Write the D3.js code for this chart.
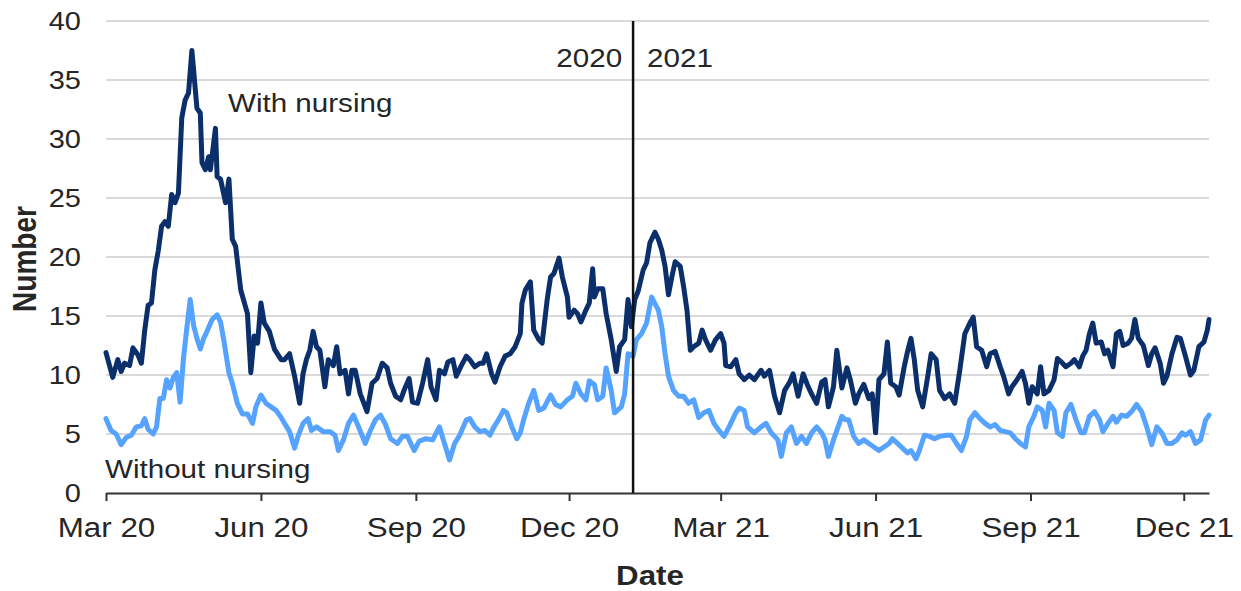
<!DOCTYPE html>
<meta charset="utf-8">
<style>
body { margin: 0; background: #fff; }
svg text { font-family: "Liberation Sans", Arial, sans-serif; fill: #262626; }
.grid line { stroke: #d9d9d9; stroke-width: 2px; }
.line { fill: none; stroke-width: 5px; stroke-linejoin: round; stroke-linecap: round; }
.with { stroke: #0b2f6b; }
.without { stroke: #55a2ff; }
.year { stroke: #111; stroke-width: 2.5px; }
</style>
<svg width="1241" height="591"></svg>
<script src="https://d3js.org/d3.v7.min.js"></script>
<script>

// days counted from 1 Mar 2020
const withDays = [0,4,7,9,11,14,16,19,21,23,25,27,29,31,33,35,37,39,41,43,45,47,49,51,54,56,57,59,61,62,65,66,68,71,73,75,77,80,84,86,88,90,92,94,97,100,104,
  106,109,112,115,117,119,121,123,125,127,130,132,135,137,139,142,144,146,148,151,155,158,161,164,167,169,172,175,177,180,182,185,188,191,193,196,198,201,203,206,208,211,214,
  216,219,222,224,226,229,231,234,237,240,243,246,247,249,252,254,257,259,262,264,266,269,271,274,275,278,280,282,285,287,289,290,292,295,297,300,303,305,308,310,312,314,316,319,321,323,326,328,
  330,332,334,336,338,341,343,345,347,349,352,354,356,359,362,365,367,368,371,374,376,379,382,385,389,391,394,397,400,403,406,408,411,414,417,419,422,425,427,429,432,434,437,
  440,442,445,447,450,453,455,457,459,462,464,466,469,471,474,476,478,480,482,485,488,490,493,495,498,501,504,507,510,513,515,517,520,523,525,528,531,533,536,538,541,544,
  546,548,550,553,555,557,560,563,565,568,570,573,575,578,580,582,584,586,588,591,593,595,598,600,602,604,607,609,611,613,616,619,621,623,626,628,630,633,636,638,641,644,646,649,652,654,655];
const withNursing = [11.9,9.8,11.3,10.3,11.0,10.8,12.3,11.7,11.0,13.8,15.9,16.1,18.9,20.5,22.6,23.0,22.6,25.3,24.6,25.4,31.8,33.3,33.9,37.5,32.6,32.2,28.0,27.4,28.5,27.4,30.9,26.8,26.6,24.6,26.6,21.5,20.9,17.2,15.2,10.2,13.3,12.7,16.1,14.4,13.7,12.2,11.3,
  11.3,11.8,9.9,7.6,10.1,11.3,12.1,13.7,12.4,12.1,9.0,11.3,10.8,12.4,10.1,10.4,8.4,10.4,10.4,8.4,6.9,9.3,9.7,11.0,10.6,9.3,8.2,7.9,8.7,9.7,7.7,7.6,9.3,11.3,9.0,7.9,10.4,10.1,11.1,11.3,9.9,10.8,11.6,
  11.3,10.7,11.0,11.0,11.8,10.1,9.4,10.7,11.6,11.8,12.4,13.5,16.1,17.2,17.9,13.8,13.0,12.7,16.4,18.3,18.6,19.9,18.3,16.6,14.9,15.5,15.2,14.5,15.5,16.1,19.0,16.6,17.3,17.3,15.2,13.0,10.3,12.4,13.0,16.4,14.1,16.4,17.1,18.9,19.5,21.2,22.1,21.5,
  20.6,19.2,16.8,18.3,19.6,19.2,17.5,15.5,12.1,12.4,12.7,13.8,13.0,12.1,13.0,13.5,12.7,10.8,10.7,11.3,10.1,9.6,10.0,9.6,10.4,9.9,10.4,8.2,6.8,8.7,9.4,10.1,8.2,10.1,9.0,8.4,7.6,9.4,9.6,7.3,9.0,12.1,8.9,
  10.6,9.6,7.6,8.4,9.2,8.0,8.4,5.1,9.6,10.1,12.8,9.3,9.0,8.3,10.7,12.0,13.1,11.3,8.7,7.3,9.9,11.8,11.3,8.7,8.0,8.4,7.6,10.4,13.5,14.4,14.9,12.4,12.1,10.7,11.8,12.0,10.7,9.9,8.4,9.0,9.6,10.3,
  9.3,7.6,9.0,8.4,10.7,8.4,8.7,9.6,11.4,11.0,10.7,11.0,11.3,10.7,11.6,12.1,13.5,14.4,12.7,12.8,11.8,12.1,10.7,13.5,13.7,12.5,12.7,13.1,14.7,13.1,12.5,10.8,11.8,12.3,11.0,9.3,9.9,11.8,13.2,13.1,11.6,10.0,10.4,12.4,12.8,13.8,14.7];

const withoutDays = [0,3,6,9,12,15,18,21,23,25,28,30,32,34,36,38,40,42,44,46,48,50,52,54,56,58,60,63,66,68,70,73,75,78,81,84,87,89,92,95,98,101,104,
  106,109,112,114,117,120,122,125,129,133,136,138,141,144,147,150,154,157,160,163,166,169,173,176,179,183,186,190,194,198,201,204,207,210,214,
  216,219,222,225,228,230,233,236,238,241,244,246,248,251,254,257,260,264,267,270,274,277,279,282,285,287,290,292,295,297,300,302,306,308,310,313,315,318,321,324,
  328,330,332,334,337,340,343,346,349,352,355,358,361,364,367,370,374,376,379,381,385,389,392,395,399,401,404,407,410,413,416,419,422,425,427,429,432,434,437,439,
  441,444,447,450,453,456,459,462,465,467,470,473,476,478,481,483,486,489,492,495,499,502,505,508,511,513,516,519,522,525,528,531,534,537,540,543,
  546,548,551,553,556,558,560,563,565,568,570,573,576,579,581,584,587,590,592,595,598,600,603,606,609,612,615,618,621,624,627,630,633,636,639,641,644,647,650,653,655];
const withoutNursing = [6.3,5.3,5.0,4.1,4.7,4.9,5.6,5.7,6.3,5.4,5.0,5.6,8.0,8.0,9.6,8.9,9.8,10.2,7.7,11.4,14.0,16.4,14.2,13.1,12.2,13.1,13.7,14.7,15.1,14.5,12.9,10.2,9.3,7.6,6.7,6.7,5.9,7.3,8.3,7.6,7.3,7.0,6.4,
  5.9,5.2,3.8,4.8,5.9,6.3,5.3,5.6,5.2,5.2,4.9,3.6,4.5,5.9,6.6,5.6,4.2,5.3,6.2,6.6,5.8,4.6,4.2,4.8,4.8,3.6,4.4,4.6,4.5,5.6,4.2,2.8,4.2,4.9,6.2,
  6.3,5.6,5.2,5.3,4.9,5.5,6.2,7.0,6.8,5.6,4.6,5.1,6.2,7.6,8.7,7.0,7.2,8.3,7.5,7.3,7.9,8.2,9.3,8.4,7.9,9.5,9.2,7.9,8.2,10.6,8.7,6.8,7.3,8.4,11.8,11.6,13.0,13.5,14.4,16.6,
  15.5,14.1,11.8,9.9,8.7,8.2,8.2,7.6,7.9,6.4,6.8,7.0,5.9,5.3,4.8,5.6,6.8,7.2,7.0,5.6,5.1,5.6,5.9,5.1,4.5,3.1,5.1,5.6,4.2,4.8,4.2,5.1,5.6,5.1,4.5,3.1,4.5,5.3,6.5,6.2,
  6.2,4.8,4.2,4.5,4.2,3.9,3.6,3.9,4.2,4.6,4.2,3.8,3.4,3.6,2.9,3.6,4.9,4.8,4.6,4.8,4.9,4.9,4.2,3.6,4.8,6.2,6.8,6.3,5.9,5.6,5.8,5.3,5.2,5.1,4.6,4.2,
  3.9,5.6,6.5,7.3,7.0,5.6,7.6,7.0,5.1,4.8,6.8,7.5,6.2,5.1,5.1,6.5,6.9,6.2,5.2,5.9,6.5,6.0,6.6,6.5,6.9,7.5,6.9,5.6,4.1,5.6,5.1,4.2,4.2,4.5,5.1,4.9,5.2,4.2,4.5,6.2,6.6];

const yTicks = [0, 5, 10, 15, 20, 25, 30, 35, 40];
const xTicks = ["2020-03-01","2020-06-01","2020-09-01","2020-12-01","2021-03-01","2021-06-01","2021-09-01","2021-12-01"];
const lastDay = 655;
const yearBreak = "2021-01-08";

const SX = 1.16; // the picture is a little wider than tall, text too

var svg = d3.select("svg");
var parse = d3.timeParse("%Y-%m-%d");
var start = parse("2020-03-01");

var x = d3.scaleTime()
    .domain([start, d3.timeDay.offset(start, lastDay)])
    .range([106, 1209]);
var y = d3.scaleLinear()
    .domain([0, 40])
    .range([493, 21]);

// grid
svg.append("g").attr("class", "grid")
  .selectAll("line")
  .data(yTicks.filter(function(d) { return d > 0; }))
  .enter().append("line")
    .attr("x1", x.range()[0])
    .attr("x2", x.range()[1])
    .attr("y1", function(d) { return y(d); })
    .attr("y2", function(d) { return y(d); });

// y axis: labels only
var yAxis = svg.append("g")
    .attr("transform", "translate(106,0)")
    .call(d3.axisLeft(y).tickValues(yTicks).tickSize(0));
yAxis.select(".domain").remove();
yAxis.selectAll("text")
    .attr("x", 0)
    .attr("font-size", 25)
    .attr("fill", "#262626")
    .attr("transform", "translate(-25,0) scale(" + SX + ",1)");

function toPoints(days, vals) {
  return days.map(function(d, i) { return {date: d3.timeDay.offset(start, d), v: vals[i]}; });
}

var line = d3.line()
    .x(function(d) { return x(d.date); })
    .y(function(d) { return y(d.v); });

svg.append("path")
    .datum(toPoints(withDays, withNursing))
    .attr("class", "line with")
    .attr("d", line);

svg.append("path")
    .datum(toPoints(withoutDays, withoutNursing))
    .attr("class", "line without")
    .attr("d", line);

// x axis
var xAxis = svg.append("g")
    .attr("transform", "translate(0," + y(0) + ")")
    .call(d3.axisBottom(x)
      .tickValues(xTicks.map(parse))
      .tickFormat(d3.timeFormat("%b %y"))
      .tickSize(8)
      .tickSizeOuter(0));
xAxis.select(".domain").attr("stroke", "#333").attr("stroke-width", 2);
xAxis.selectAll(".tick line").attr("stroke", "#333").attr("stroke-width", 2);
xAxis.selectAll("text")
    .attr("y", 44)
    .attr("dy", 0)
    .attr("font-size", 27)
    .attr("fill", "#262626")
    .attr("transform", "scale(" + SX + ",1)");

// 2020 | 2021 divider
var xb = x(parse(yearBreak));
svg.append("line")
    .attr("class", "year")
    .attr("x1", xb).attr("x2", xb)
    .attr("y1", y(40)).attr("y2", y(0));

function label(txt, px, py, anchor, size, weight, extra) {
  return svg.append("text")
    .attr("transform", "translate(" + px + "," + py + ") scale(" + SX + ",1)" + (extra || ""))
    .attr("text-anchor", anchor)
    .attr("font-size", size)
    .attr("font-weight", weight || "normal")
    .text(txt);
}

label("2020", xb - 11, 67, "end", 25.5);
label("2021", xb + 14, 67, "start", 25.5);
label("With nursing", 228, 112, "start", 25.5);
label("Without nursing", 105, 478, "start", 25.5);

label("Date", 650, 585, "middle", 27, "bold");
label("Number", 36, 259, "middle", 28, "bold", " rotate(-90)");

</script>
